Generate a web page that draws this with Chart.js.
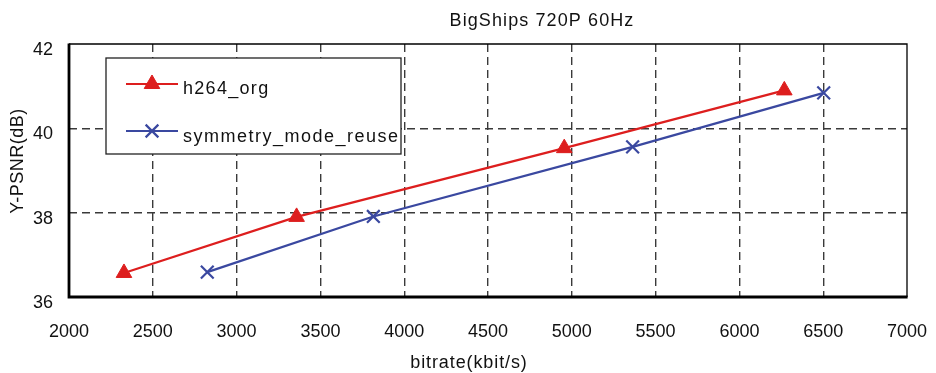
<!DOCTYPE html>
<html>
<head>
<meta charset="utf-8">
<title>BigShips 720P 60Hz</title>
<script src="https://cdn.jsdelivr.net/npm/chart.js@4/dist/chart.umd.min.js"></script>
<style>
  body { margin: 0; background: #fff; }
  #rdChart { display: block; }
</style>
</head>
<body>
<canvas id="rdChart" width="936" height="373"></canvas>
<script>
const chartTitle = "BigShips 720P 60Hz";
const xTitle = "bitrate(kbit/s)";
const yTitle = "Y-PSNR(dB)";

const orgLabel = "h264_org";
const orgBitrate = [2328, 3358, 4955, 6268];
const orgPsnr = [36.57, 37.90, 39.53, 40.90];

const reuseLabel = "symmetry_mode_reuse";
const reuseBitrate = [2825, 3816, 5363, 6503];
const reusePsnr = [36.59, 37.91, 39.56, 40.84];

const xTicks = [2000, 2500, 3000, 3500, 4000, 4500, 5000, 5500, 6000, 6500, 7000];
const yTicks = [36, 38, 40, 42];

const FONT = "'Liberation Sans', Arial, Helvetica, sans-serif";

function toPoints(xs, ys) {
  return xs.map((x, i) => ({ x: x, y: ys[i] }));
}

// grid only inside, the frame is drawn by hand
function gridColor(ctx) {
  const v = ctx.tick ? ctx.tick.value : null;
  const s = ctx.scale;
  if (v === s.min || v === s.max) return "rgba(0,0,0,0)";
  return "#3a3a3a";
}

function drawText(ctx, text, x, y, spacing, align) {
  ctx.save();
  ctx.font = "18px " + FONT;
  ctx.fillStyle = "#111";
  ctx.textAlign = align || "left";
  ctx.textBaseline = "alphabetic";
  ctx.letterSpacing = spacing + "px";
  ctx.fillText(text, x, y);
  ctx.restore();
}

const framePlugin = {
  id: "frameAndLegend",
  afterDatasetsDraw(chart) {
    const ctx = chart.ctx;
    const a = chart.chartArea;

    // frame: thin top/right, heavy left/bottom
    ctx.save();
    ctx.strokeStyle = "#000";
    ctx.lineWidth = 1.3;
    ctx.beginPath();
    ctx.moveTo(a.left, a.top);
    ctx.lineTo(a.right, a.top);
    ctx.lineTo(a.right, a.bottom);
    ctx.stroke();
    ctx.lineWidth = 2.8;
    ctx.beginPath();
    ctx.moveTo(a.left, a.top - 0.6);
    ctx.lineTo(a.left, a.bottom);
    ctx.lineTo(a.right + 0.6, a.bottom);
    ctx.stroke();
    ctx.restore();

    // legend box inside the plot
    const box = { x: 106, y: 58, w: 295, h: 96 };
    ctx.save();
    ctx.fillStyle = "#fff";
    ctx.fillRect(box.x, box.y, box.w, box.h);
    ctx.strokeStyle = "#222";
    ctx.lineWidth = 1.3;
    ctx.strokeRect(box.x, box.y, box.w, box.h);
    ctx.restore();

    const rows = [84, 131];
    const baselines = [94, 142];
    const spacings = [1.3, 1.5];
    chart.data.datasets.forEach((ds, i) => {
      const y = rows[i];
      ctx.save();
      ctx.strokeStyle = ds.borderColor;
      ctx.lineWidth = ds.borderWidth;
      ctx.beginPath();
      ctx.moveTo(126, y);
      ctx.lineTo(178, y);
      ctx.stroke();
      ctx.fillStyle = ds.pointBackgroundColor;
      ctx.strokeStyle = ds.pointBorderColor;
      ctx.lineWidth = ds.pointBorderWidth;
      Chart.helpers.drawPoint(ctx, {
        pointStyle: ds.pointStyle,
        radius: ds.pointRadius,
        rotation: 0,
        borderWidth: ds.pointBorderWidth
      }, 152, y);
      ctx.restore();
      drawText(ctx, ds.label, 183, baselines[i], spacings[i]);
    });

    // titles
    drawText(ctx, chartTitle, 542, 26, 1.1, "center");
    drawText(ctx, xTitle, 469, 368, 0.9, "center");
    ctx.save();
    ctx.translate(23, 161);
    ctx.rotate(-Math.PI / 2);
    drawText(ctx, yTitle, 0, 0, 0.5, "center");
    ctx.restore();
  }
};

function createRdChart() {
  const ctx = document.getElementById("rdChart").getContext("2d");
  return new Chart(ctx, {
    type: "scatter",
    data: {
      datasets: [
        {
          label: orgLabel,
          data: toPoints(orgBitrate, orgPsnr),
          showLine: true,
          borderColor: "rgb(221, 30, 30)",
          backgroundColor: "rgb(221, 30, 30)",
          borderWidth: 2.2,
          pointStyle: "triangle",
          pointRadius: 9,
          pointBackgroundColor: "rgb(221, 30, 30)",
          pointBorderColor: "rgb(221, 30, 30)",
          pointBorderWidth: 1,
          tension: 0,
        },
        {
          label: reuseLabel,
          data: toPoints(reuseBitrate, reusePsnr),
          showLine: true,
          borderColor: "rgb(58, 72, 160)",
          backgroundColor: "rgb(58, 72, 160)",
          borderWidth: 2.2,
          pointStyle: "crossRot",
          pointRadius: 9,
          pointBackgroundColor: "rgb(58, 72, 160)",
          pointBorderColor: "rgb(58, 72, 160)",
          pointBorderWidth: 2.2,
          tension: 0,
        },
      ],
    },
    options: {
      responsive: false,
      animation: false,
      devicePixelRatio: 1,
      layout: {
        padding: { top: 44, right: 29, left: 0, bottom: 0 },
      },
      plugins: {
        legend: { display: false },
        title: { display: false },
        tooltip: { enabled: false },
      },
      scales: {
        x: {
          type: "linear",
          min: xTicks[0],
          max: xTicks[xTicks.length - 1],
          afterBuildTicks: (scale) => {
            scale.ticks = xTicks.map((v) => ({ value: v }));
          },
          afterFit: (scale) => {
            scale.height = 76;
            scale.paddingLeft = 0;
            scale.paddingRight = 0;
          },
          ticks: {
            padding: 24,
            color: "#111",
            font: { family: FONT, size: 18 },
            maxRotation: 0,
            autoSkip: false,
            callback: (v) => String(v),
          },
          grid: {
            color: gridColor,
            lineWidth: 1.4,
            drawTicks: false,
          },
          border: { display: false, dash: [8, 5] },
        },
        y: {
          type: "linear",
          min: yTicks[0],
          max: yTicks[yTicks.length - 1],
          afterBuildTicks: (scale) => {
            scale.ticks = yTicks.map((v) => ({ value: v }));
          },
          afterFit: (scale) => {
            scale.width = 69;
            scale.paddingTop = 0;
            scale.paddingBottom = 0;
          },
          ticks: {
            padding: 16,
            labelOffset: 6,
            color: "#111",
            font: { family: FONT, size: 18 },
            callback: (v) => String(v),
          },
          grid: {
            color: gridColor,
            lineWidth: 1.4,
            drawTicks: false,
          },
          border: { display: false, dash: [8, 5] },
        },
      },
    },
    plugins: [framePlugin],
  });
}

createRdChart();
</script>
</body>
</html>
